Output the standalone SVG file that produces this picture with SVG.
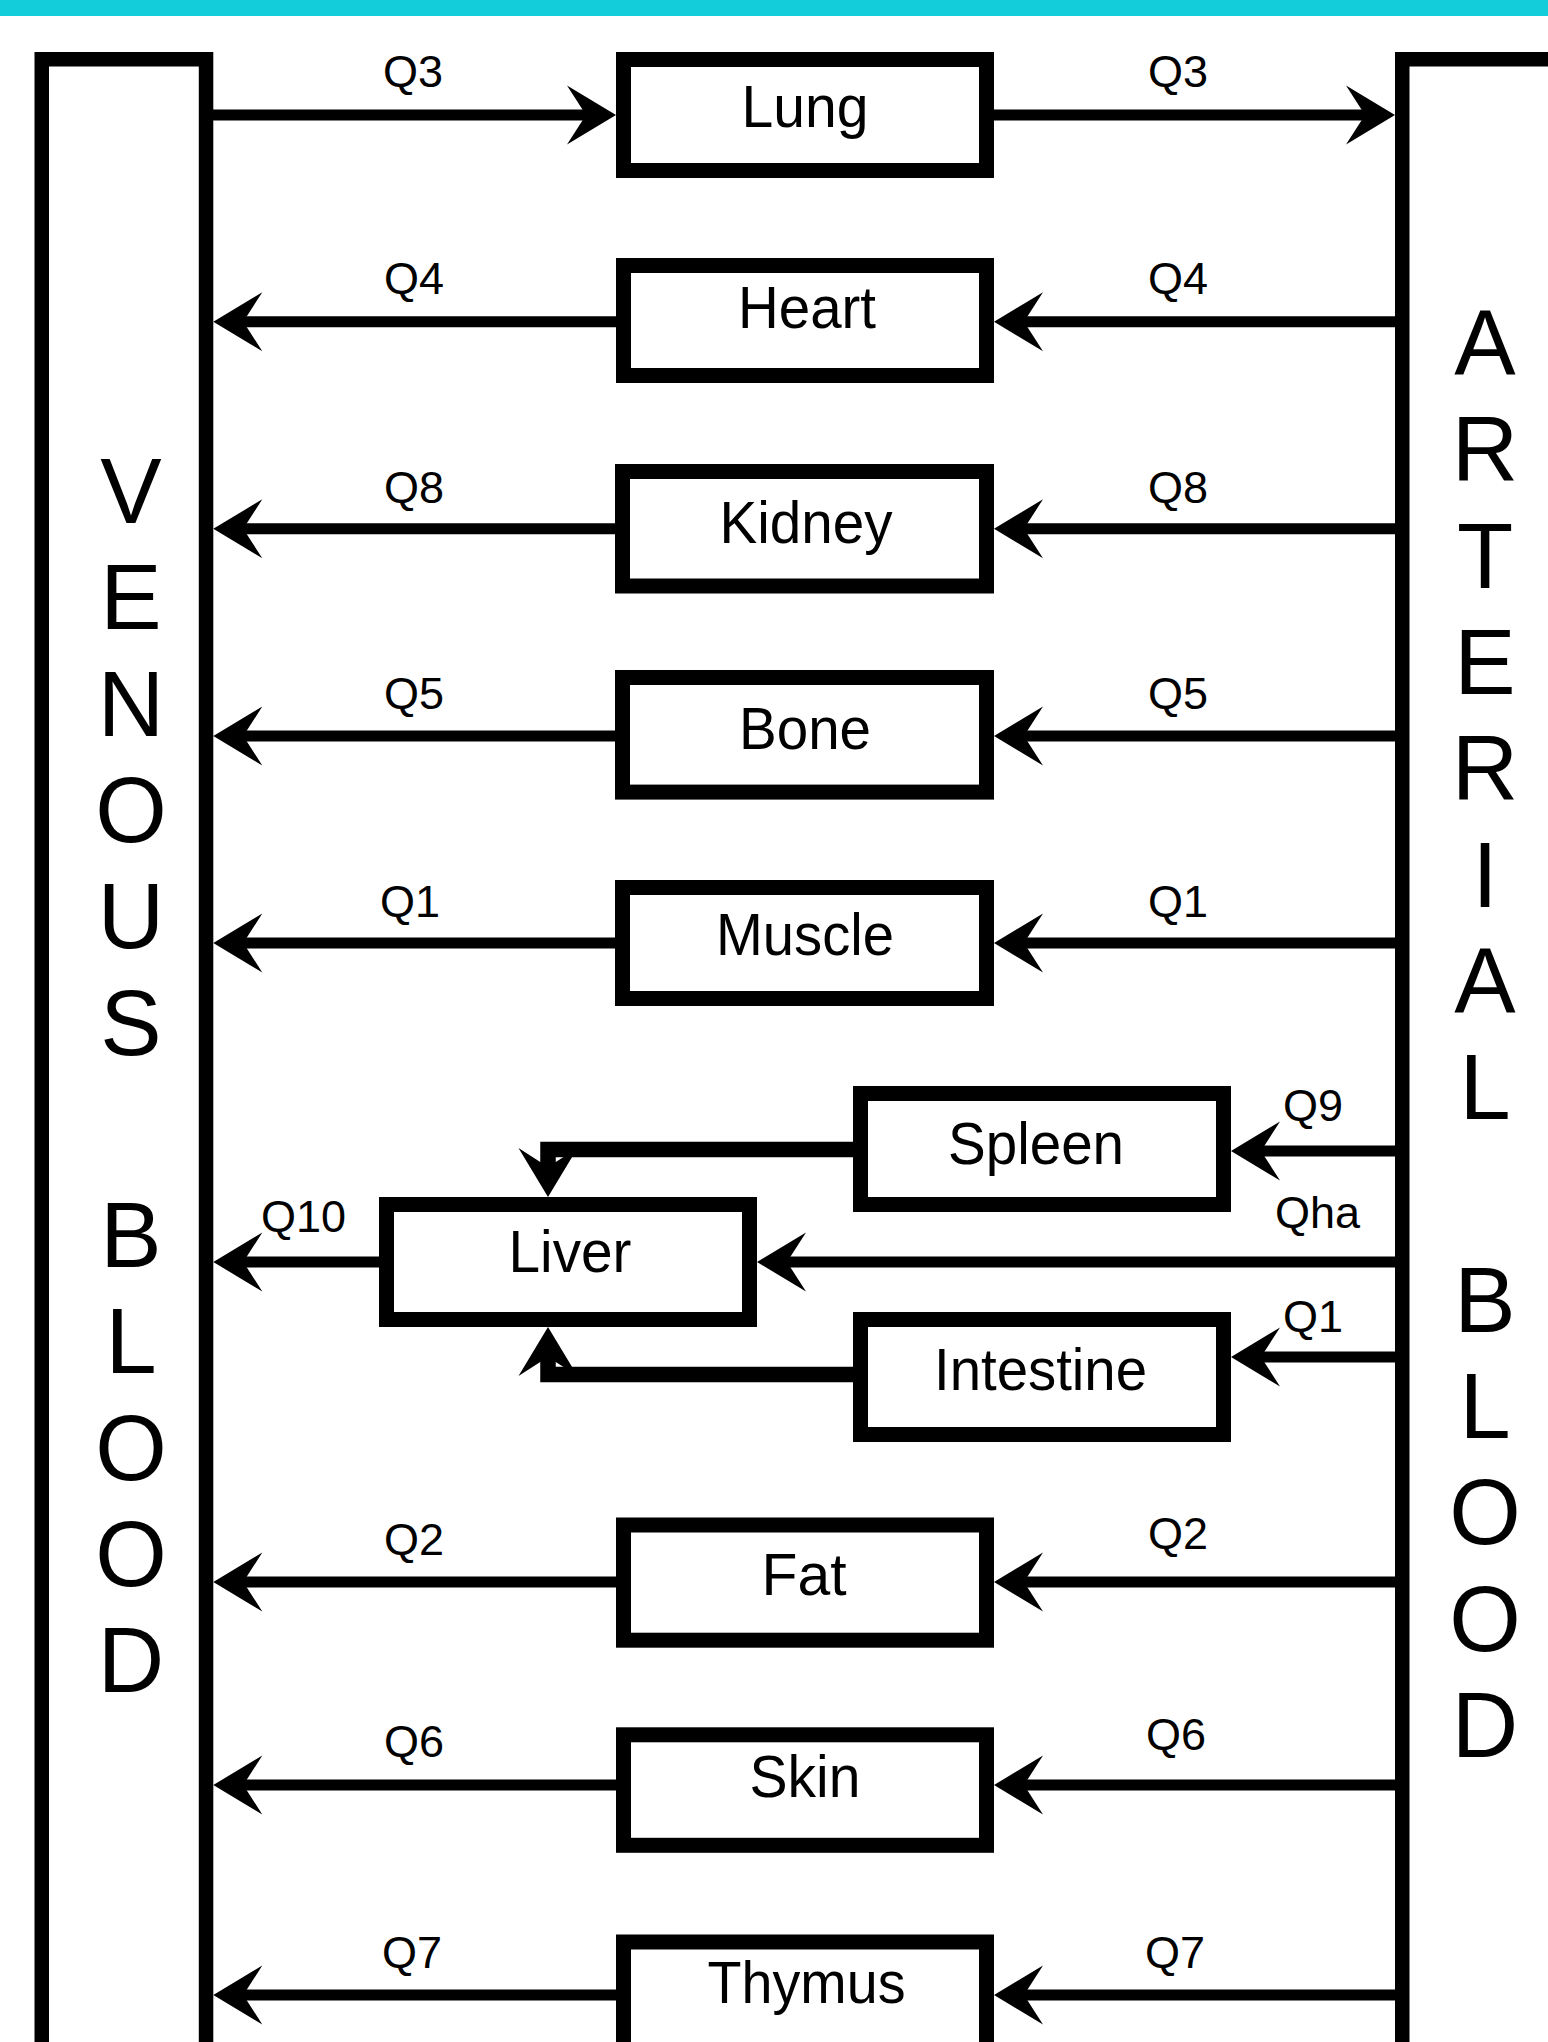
<svg xmlns="http://www.w3.org/2000/svg" xmlns:xlink="http://www.w3.org/1999/xlink" width="1548" height="2042" viewBox="0 0 1548 2042">
<style>
.bg{fill:#ffffff}
.bar{fill:#13CDDB}
.blood{fill:none;stroke:#000;stroke-width:14.5}
.box{fill:#fff;stroke:#000;stroke-width:15}
.ln{fill:none;stroke:#000;stroke-width:11}
.lnw{fill:none;stroke:#000;stroke-width:15.5;stroke-linejoin:miter}
.ah{fill:#000}
.big{font-family:"Liberation Sans",Arial,sans-serif;font-size:92px;fill:#000;text-anchor:middle}
.nm{font-family:"Liberation Sans",Arial,sans-serif;font-size:60px;fill:#000;text-anchor:middle}
.q{font-family:"Liberation Sans",Arial,sans-serif;font-size:45px;fill:#000;text-anchor:middle}
.qs{font-family:"Liberation Sans",Arial,sans-serif;font-size:45px;fill:#000;text-anchor:start}
</style>
<defs>
<path id="ah" class="ah" d="M0,0 L-49,-29.5 L-30,0 L-49,29.5 Z"/>
</defs>
<rect class="bg" x="0" y="0" width="1548" height="2042"/>
<rect class="bar" x="0" y="0" width="1548" height="16"/>

<g id="venous">
<rect class="blood" x="41.75" y="59.25" width="164.3" height="2100"/>
<text class="big"><tspan x="131" y="523">V</tspan><tspan x="131" y="629.3">E</tspan><tspan x="131" y="735.6">N</tspan><tspan x="131" y="841.9">O</tspan><tspan x="131" y="948.2">U</tspan><tspan x="131" y="1054.5">S</tspan><tspan x="131" y="1267.1">B</tspan><tspan x="131" y="1373.4">L</tspan><tspan x="131" y="1479.7">O</tspan><tspan x="131" y="1586">O</tspan><tspan x="131" y="1692.3">D</tspan></text>
</g>

<g id="arterial">
<rect class="blood" x="1402.25" y="59.25" width="300" height="2100"/>
<text class="big"><tspan x="1485" y="375">A</tspan><tspan x="1485" y="481.3">R</tspan><tspan x="1485" y="587.6">T</tspan><tspan x="1485" y="693.9">E</tspan><tspan x="1485" y="800.2">R</tspan><tspan x="1485" y="906.5">I</tspan><tspan x="1485" y="1012.8">A</tspan><tspan x="1485" y="1119.1">L</tspan><tspan x="1485" y="1331.7">B</tspan><tspan x="1485" y="1438">L</tspan><tspan x="1485" y="1544.3">O</tspan><tspan x="1485" y="1650.6">O</tspan><tspan x="1485" y="1756.9">D</tspan></text>
</g>

<g id="connectors">
<!-- Lung row (right-pointing) -->
<line class="ln" x1="210" y1="115" x2="596" y2="115"/>
<use xlink:href="#ah" href="#ah" transform="translate(616,115)"/>
<line class="ln" x1="990" y1="115" x2="1375" y2="115"/>
<use xlink:href="#ah" href="#ah" transform="translate(1395,115)"/>
<!-- Heart -->
<line class="ln" x1="1400" y1="321.7" x2="1014" y2="321.7"/>
<use xlink:href="#ah" href="#ah" transform="translate(994,321.7) rotate(180)"/>
<line class="ln" x1="620" y1="321.7" x2="233" y2="321.7"/>
<use xlink:href="#ah" href="#ah" transform="translate(213.3,321.7) rotate(180)"/>
<!-- Kidney -->
<line class="ln" x1="1400" y1="528.8" x2="1014" y2="528.8"/>
<use xlink:href="#ah" href="#ah" transform="translate(994,528.8) rotate(180)"/>
<line class="ln" x1="620" y1="528.8" x2="233" y2="528.8"/>
<use xlink:href="#ah" href="#ah" transform="translate(213.3,528.8) rotate(180)"/>
<!-- Bone -->
<line class="ln" x1="1400" y1="736" x2="1014" y2="736"/>
<use xlink:href="#ah" href="#ah" transform="translate(994,736) rotate(180)"/>
<line class="ln" x1="620" y1="736" x2="233" y2="736"/>
<use xlink:href="#ah" href="#ah" transform="translate(213.3,736) rotate(180)"/>
<!-- Muscle -->
<line class="ln" x1="1400" y1="943" x2="1014" y2="943"/>
<use xlink:href="#ah" href="#ah" transform="translate(994,943) rotate(180)"/>
<line class="ln" x1="620" y1="943" x2="233" y2="943"/>
<use xlink:href="#ah" href="#ah" transform="translate(213.3,943) rotate(180)"/>
<!-- Spleen in -->
<line class="ln" x1="1400" y1="1151" x2="1251" y2="1151"/>
<use xlink:href="#ah" href="#ah" transform="translate(1231,1151) rotate(180)"/>
<!-- Liver in (Qha) -->
<line class="ln" x1="1400" y1="1262" x2="777" y2="1262"/>
<use xlink:href="#ah" href="#ah" transform="translate(757,1262) rotate(180)"/>
<!-- Intestine in -->
<line class="ln" x1="1400" y1="1357" x2="1251" y2="1357"/>
<use xlink:href="#ah" href="#ah" transform="translate(1231,1357) rotate(180)"/>
<!-- Liver out (Q10) -->
<line class="ln" x1="383" y1="1262" x2="233" y2="1262"/>
<use xlink:href="#ah" href="#ah" transform="translate(213.3,1262) rotate(180)"/>
<!-- Spleen to Liver -->
<path class="lnw" d="M856,1149.5 H548 V1177"/>
<use xlink:href="#ah" href="#ah" transform="translate(548,1197) rotate(90)"/>
<!-- Intestine to Liver -->
<path class="lnw" d="M856,1374.5 H548 V1347"/>
<use xlink:href="#ah" href="#ah" transform="translate(548,1327) rotate(-90)"/>
<!-- Fat -->
<line class="ln" x1="1400" y1="1582" x2="1014" y2="1582"/>
<use xlink:href="#ah" href="#ah" transform="translate(994,1582) rotate(180)"/>
<line class="ln" x1="620" y1="1582" x2="233" y2="1582"/>
<use xlink:href="#ah" href="#ah" transform="translate(213.3,1582) rotate(180)"/>
<!-- Skin -->
<line class="ln" x1="1400" y1="1785" x2="1014" y2="1785"/>
<use xlink:href="#ah" href="#ah" transform="translate(994,1785) rotate(180)"/>
<line class="ln" x1="620" y1="1785" x2="233" y2="1785"/>
<use xlink:href="#ah" href="#ah" transform="translate(213.3,1785) rotate(180)"/>
<!-- Thymus -->
<line class="ln" x1="1400" y1="1995" x2="1014" y2="1995"/>
<use xlink:href="#ah" href="#ah" transform="translate(994,1995) rotate(180)"/>
<line class="ln" x1="620" y1="1995" x2="233" y2="1995"/>
<use xlink:href="#ah" href="#ah" transform="translate(213.3,1995) rotate(180)"/>

<!-- flow labels -->
<text class="q" x="413" y="87">Q3</text>
<text class="q" x="1178" y="87">Q3</text>
<text class="q" x="414" y="294">Q4</text>
<text class="q" x="1178" y="294">Q4</text>
<text class="q" x="414" y="502.5">Q8</text>
<text class="q" x="1178" y="502.5">Q8</text>
<text class="q" x="414" y="709">Q5</text>
<text class="q" x="1178" y="709">Q5</text>
<text class="q" x="410" y="916.5">Q1</text>
<text class="q" x="1178" y="916.5">Q1</text>
<text class="qs" x="1283" y="1121">Q9</text>
<text class="qs" x="1275" y="1228">Qha</text>
<text class="qs" x="1283" y="1331.5">Q1</text>
<text class="qs" x="261" y="1231.5">Q10</text>
<text class="q" x="414" y="1555">Q2</text>
<text class="q" x="1178" y="1549">Q2</text>
<text class="q" x="414" y="1757">Q6</text>
<text class="q" x="1176" y="1750">Q6</text>
<text class="q" x="412" y="1968">Q7</text>
<text class="q" x="1175" y="1968">Q7</text>
</g>

<g id="lung"><rect class="box" x="623.5" y="59.5" width="363" height="111"/><text class="nm" x="805" y="127" textLength="127" lengthAdjust="spacingAndGlyphs">Lung</text></g>
<g id="heart"><rect class="box" x="623.5" y="265.5" width="363" height="110"/><text class="nm" x="807" y="328" textLength="138" lengthAdjust="spacingAndGlyphs">Heart</text></g>
<g id="kidney"><rect class="box" x="622.5" y="471.5" width="364" height="114.5"/><text class="nm" x="806" y="543" textLength="173" lengthAdjust="spacingAndGlyphs">Kidney</text></g>
<g id="bone"><rect class="box" x="622.5" y="677.5" width="364" height="114.6"/><text class="nm" x="805" y="749" textLength="132" lengthAdjust="spacingAndGlyphs">Bone</text></g>
<g id="muscle"><rect class="box" x="622.5" y="887.5" width="364" height="111"/><text class="nm" x="805" y="955" textLength="178" lengthAdjust="spacingAndGlyphs">Muscle</text></g>
<g id="spleen"><rect class="box" x="860.5" y="1093.5" width="363" height="111"/><text class="nm" x="1036" y="1164" textLength="176" lengthAdjust="spacingAndGlyphs">Spleen</text></g>
<g id="liver"><rect class="box" x="386.5" y="1204.5" width="363" height="115"/><text class="nm" x="570" y="1271.7" textLength="123" lengthAdjust="spacingAndGlyphs">Liver</text></g>
<g id="intestine"><rect class="box" x="860.5" y="1319.5" width="363" height="115"/><text class="nm" x="1040.5" y="1390" textLength="213" lengthAdjust="spacingAndGlyphs">Intestine</text></g>
<g id="fat"><rect class="box" x="623.5" y="1525" width="363" height="115.2"/><text class="nm" x="804" y="1595.4" textLength="85" lengthAdjust="spacingAndGlyphs">Fat</text></g>
<g id="skin"><rect class="box" x="623.5" y="1734.8" width="363" height="110.5"/><text class="nm" x="805" y="1797" textLength="111" lengthAdjust="spacingAndGlyphs">Skin</text></g>
<g id="thymus"><rect class="box" x="623.5" y="1942" width="363" height="111"/><text class="nm" x="806.5" y="2003.3" textLength="198" lengthAdjust="spacingAndGlyphs">Thymus</text></g>
</svg>
